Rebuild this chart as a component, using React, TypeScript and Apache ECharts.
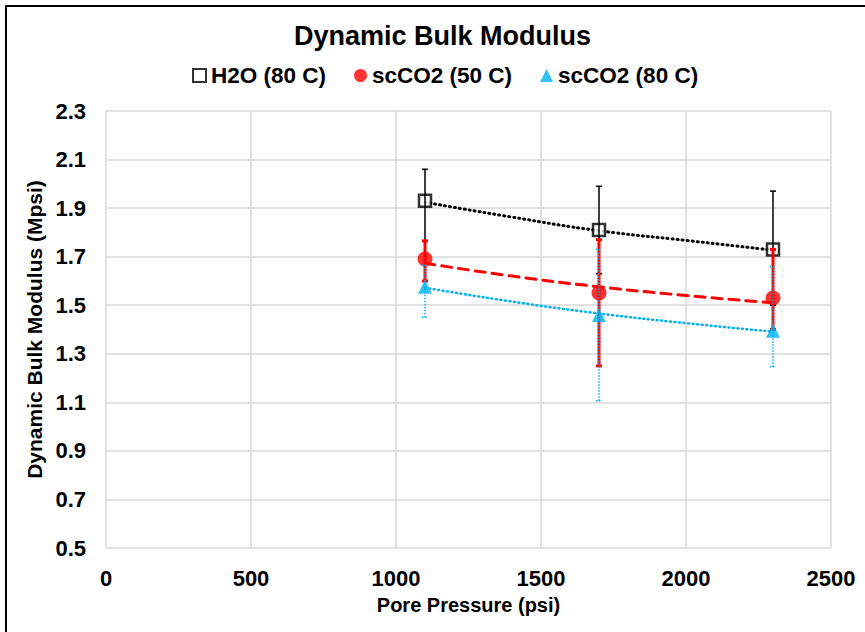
import React, { useEffect, useRef } from "react";
import * as echarts from "echarts";

const pressures = [1100, 1700, 2300];
const h2oValues = [1.93, 1.81, 1.73];
const h2oLow = [1.765, 1.63, 1.5];
const h2oHigh = [2.06, 1.99, 1.97];
const co2_50Values = [1.69, 1.55, 1.53];
const co2_50Low = [1.6, 1.25, 1.4];
const co2_50High = [1.765, 1.77, 1.73];
const co2_80Values = [1.576, 1.46, 1.395];
const co2_80Low = [1.45, 1.107, 1.247];
const co2_80High = [1.666, 1.731, 1.659];

const trendX = [1100, 1400, 1700, 2000, 2300];
const h2oTrend = [1.924, 1.863, 1.807, 1.767, 1.727];
const co2_50Trend = [1.673, 1.62, 1.576, 1.54, 1.51];
const co2_80Trend = [1.572, 1.515, 1.466, 1.426, 1.391];

const xTicks = [0, 500, 1000, 1500, 2000, 2500];
const yTicks = [0.5, 0.7, 0.9, 1.1, 1.3, 1.5, 1.7, 1.9, 2.1, 2.3];

const FONT = "'Liberation Sans', Arial, sans-serif";
const BLACK = "#000000";
const RED = "#FF0000";
const BLUE = "#00B0F0";

function errSeries(name: string, lows: number[], highs: number[], color: string, width: number, dashed: boolean, z: number) {
  return {
    type: "custom",
    name,
    z,
    silent: true,
    data: pressures.map((p, i) => [p, lows[i], highs[i]]),
    renderItem: (params: any, api: any) => {
      const x = api.value(0);
      const lo = api.coord([x, api.value(1)]);
      const hi = api.coord([x, api.value(2)]);
      const cap = 3;
      const style: any = { stroke: color, lineWidth: width };
      if (dashed) style.lineDash = [1.5, 1.5];
      return {
        type: "group",
        children: [
          { type: "line", shape: { x1: lo[0], y1: lo[1], x2: hi[0], y2: hi[1] }, style },
          { type: "line", shape: { x1: hi[0] - cap, y1: hi[1], x2: hi[0] + cap, y2: hi[1] }, style },
          { type: "line", shape: { x1: lo[0] - cap, y1: lo[1], x2: lo[0] + cap, y2: lo[1] }, style },
        ],
      };
    },
  };
}

function trendSeries(name: string, vals: number[], color: string, width: number, type: any, z: number) {
  return {
    type: "line",
    name,
    z,
    silent: true,
    smooth: true,
    showSymbol: false,
    symbol: "none",
    data: trendX.map((x, i) => [x, vals[i]]),
    lineStyle: { color, width, type, cap: "round" },
  };
}

export default function App() {
  const ref = useRef<HTMLDivElement>(null);
  useEffect(() => {
    document.body.style.margin = "0";
    const chart = echarts.init(ref.current!, null, { renderer: "svg" });
    chart.setOption({
      animation: false,
      backgroundColor: "#ffffff",
      title: {
        text: "Dynamic Bulk Modulus",
        left: 289,
        top: 17,
        textStyle: { fontFamily: FONT, fontWeight: "bold", fontSize: 27, color: "#000" },
      },
      legend: {
        top: 59,
        left: 187,
        itemGap: 28,
        itemWidth: 13,
        itemHeight: 13,
        data: [
          { name: "H2O (80 C)", icon: "rect" },
          { name: "scCO2 (50 C)", icon: "circle" },
          { name: "scCO2 (80 C)", icon: "triangle" },
        ],
        textStyle: { fontFamily: FONT, fontWeight: "bold", fontSize: 22.5, color: "#000" },
      },
      graphic: [
        {
          type: "rect",
          shape: { x: 6, y: 6, width: 900, height: 700 },
          style: { fill: "none", stroke: "#000", lineWidth: 2 },
          silent: true,
        },
      ],
      grid: { left: 106, top: 111, width: 725, height: 437 },
      xAxis: {
        type: "value",
        min: xTicks[0],
        max: xTicks[xTicks.length - 1],
        interval: 500,
        name: "Pore Pressure (psi)",
        nameLocation: "middle",
        nameGap: 47,
        nameTextStyle: { fontFamily: FONT, fontWeight: "bold", fontSize: 20, color: "#000" },
        axisLine: { show: false },
        axisTick: { show: false },
        axisLabel: {
          fontFamily: FONT,
          fontWeight: "bold",
          fontSize: 22,
          color: "#000",
          margin: 19,
          formatter: (v: number) => String(v),
        },
        splitLine: { show: true, lineStyle: { color: "#d9d9d9", width: 1.5 } },
      },
      yAxis: {
        type: "value",
        min: yTicks[0],
        max: yTicks[yTicks.length - 1],
        interval: 0.2,
        name: "Dynamic Bulk Modulus (Mpsi)",
        nameLocation: "middle",
        nameGap: 58,
        nameTextStyle: { fontFamily: FONT, fontWeight: "bold", fontSize: 21, color: "#000" },
        axisLine: { show: false },
        axisTick: { show: false },
        axisLabel: {
          fontFamily: FONT,
          fontWeight: "bold",
          fontSize: 22,
          color: "#000",
          margin: 20,
          formatter: (v: number) => v.toFixed(1),
        },
        splitLine: { show: true, lineStyle: { color: "#d9d9d9", width: 1.5 } },
      },
      series: [
        trendSeries("h2o trend", h2oTrend, BLACK, 3, [1, 4], 2),
        trendSeries("co2-50 trend", co2_50Trend, RED, 3, [10, 7], 2),
        trendSeries("co2-80 trend", co2_80Trend, BLUE, 2.5, [1, 3.5], 2),
        {
          type: "scatter",
          name: "H2O (80 C)",
          z: 3,
          symbol: "rect",
          symbolSize: 12,
          itemStyle: { color: "#ffffff", borderColor: BLACK, borderWidth: 2.5 },
          data: pressures.map((p, i) => [p, h2oValues[i]]),
        },
        errSeries("h2o err", h2oLow, h2oHigh, BLACK, 1.5, false, 4),
        {
          type: "scatter",
          name: "scCO2 (50 C)",
          z: 5,
          symbol: "circle",
          symbolSize: 15,
          itemStyle: { color: RED },
          data: pressures.map((p, i) => [p, co2_50Values[i]]),
        },
        errSeries("co2-50 err", co2_50Low, co2_50High, RED, 3, false, 6),
        {
          type: "scatter",
          name: "scCO2 (80 C)",
          z: 7,
          symbol: "triangle",
          symbolSize: 14,
          itemStyle: { color: BLUE },
          data: pressures.map((p, i) => [p, co2_80Values[i]]),
        },
        errSeries("co2-80 err", co2_80Low, co2_80High, BLUE, 1.5, true, 8),
      ],
    });
    return () => chart.dispose();
  }, []);
  return <div ref={ref} style={{ width: 865, height: 632 }} />;
}
